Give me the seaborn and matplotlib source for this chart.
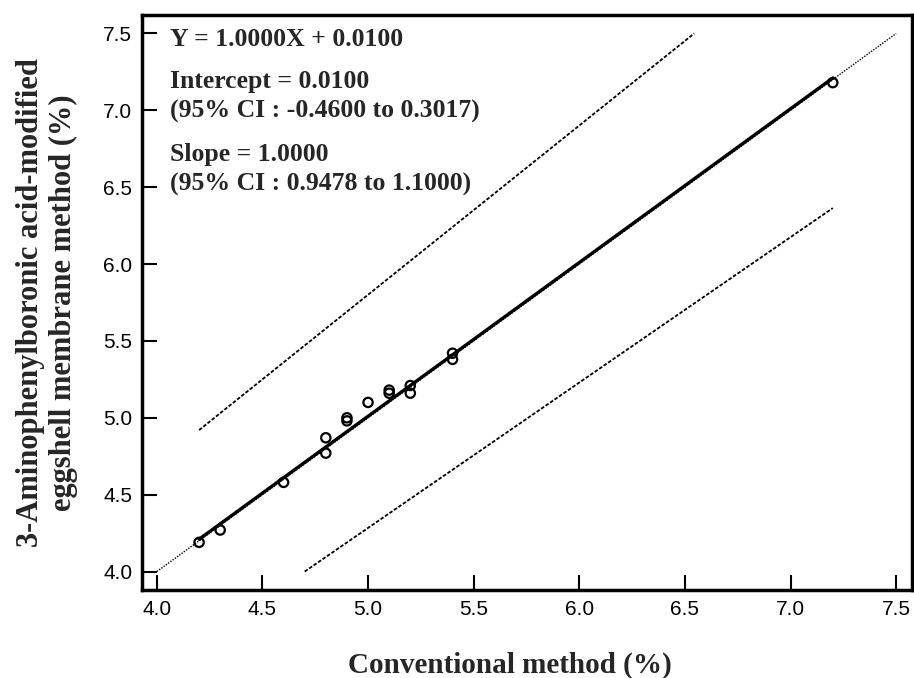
import numpy as np
import pandas as pd
import matplotlib
matplotlib.use("Agg")
import matplotlib.pyplot as plt
import seaborn as sns

# Data
conventional = [4.2, 4.3, 4.6, 4.8, 4.8, 4.9, 4.9, 5.0, 5.1, 5.1, 5.2, 5.2, 5.4, 5.4, 7.2]
modified = [4.19, 4.27, 4.58, 4.87, 4.77, 5.00, 4.98, 5.10, 5.18, 5.16, 5.21, 5.16, 5.42, 5.38, 7.18]

fit_x = [4.2, 7.2]
fit_y = [4.21, 7.21]
ident_x = [4.0, 7.5]
ident_y = [4.0, 7.5]
upper_x = [4.2, 6.544]
upper_y = [4.92, 7.5]
lower_x = [4.7, 7.2]
lower_y = [4.0, 6.364]

xticks = [4.0, 4.5, 5.0, 5.5, 6.0, 6.5, 7.0, 7.5]
yticks = [4.0, 4.5, 5.0, 5.5, 6.0, 6.5, 7.0, 7.5]

annot_lines = ["Y = 1.0000X + 0.0100",
               "Intercept = 0.0100",
               "(95% CI : -0.4600 to 0.3017)",
               "Slope = 1.0000",
               "(95% CI : 0.9478 to 1.1000)"]

sns.set_style("white")
plt.rcParams['font.family'] = ['Liberation Sans', 'DejaVu Sans']

fig = plt.figure(figsize=(9.14, 6.78), dpi=100)
ax = fig.add_axes([0.1554, 0.1298, 0.8424, 0.8481])

df = pd.DataFrame({"x": conventional, "y": modified})

sns.lineplot(x=ident_x, y=ident_y, ax=ax, color="black", lw=1.0, linestyle=(0, (1, 1)))
sns.lineplot(x=fit_x, y=fit_y, ax=ax, color="black", lw=2.4)
sns.lineplot(x=upper_x, y=upper_y, ax=ax, color="black", lw=1.3, linestyle=(0, (2, 1)))
sns.lineplot(x=lower_x, y=lower_y, ax=ax, color="black", lw=1.3, linestyle=(0, (2, 1)))
sns.scatterplot(data=df, x="x", y="y", ax=ax, marker="o", s=45,
                facecolor="none", edgecolor="black", linewidth=1.6, zorder=5)

ax.set_xlim(3.93, 7.575)
ax.set_ylim(3.88, 7.62)
ax.set_xticks(xticks)
ax.set_yticks(yticks)
ax.set_xticklabels([f"{v:.1f}" for v in xticks], fontsize=15)
ax.set_yticklabels([f"{v:.1f}" for v in yticks], fontsize=15)
ax.tick_params(direction="in", length=11, width=1.5, colors="black", pad=7,
               bottom=True, left=True, top=False, right=False)
for s in ax.spines.values():
    s.set_visible(True)
    s.set_linewidth(2.5)
    s.set_color("black")

serif = ['Liberation Serif', 'DejaVu Serif']
ax.set_xlabel("Conventional method (%)", fontsize=21, fontweight="bold", family=serif, labelpad=24)
ax.xaxis.label.set_x(0.478)
ax.set_ylabel("3-Aminophenylboronic acid-modified\neggshell membrane method (%)", fontsize=22,
              fontweight="bold", family=serif, labelpad=18, linespacing=1.17)

ys = [0.9565, 0.8835, 0.833, 0.7565, 0.706]
for t, yy in zip(annot_lines, ys):
    ax.text(0.0364, yy, t, transform=ax.transAxes, fontsize=18.5,
            fontweight="bold", family=serif, va="center", ha="left")

fig.savefig("out.png", dpi=100)
